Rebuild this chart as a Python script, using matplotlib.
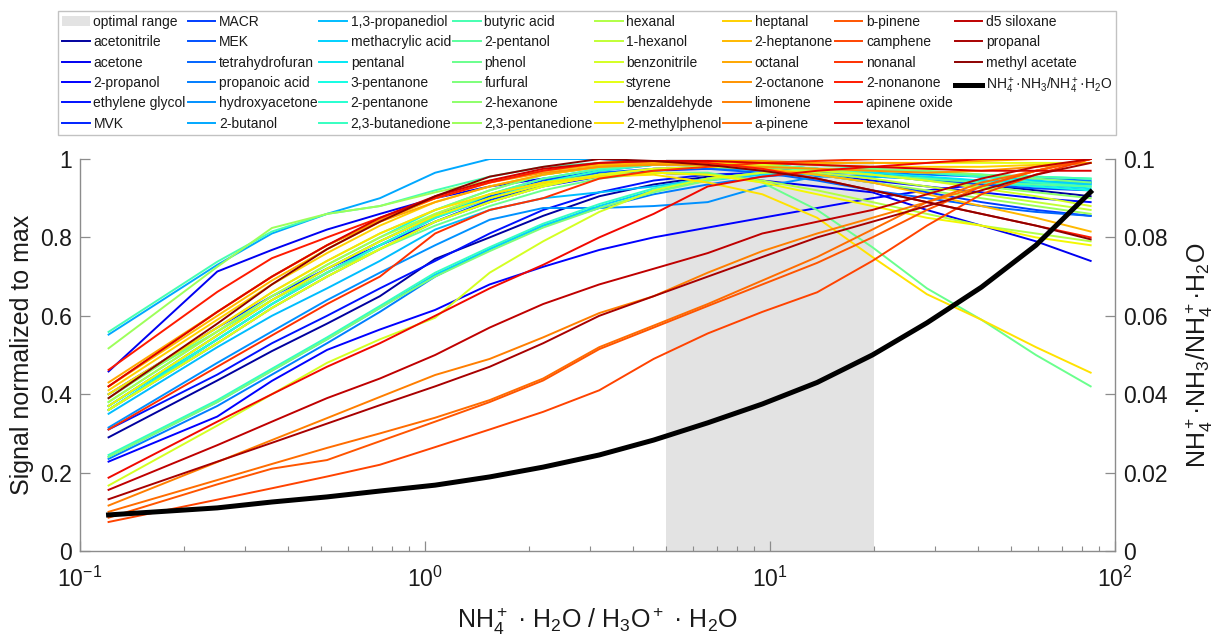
import numpy as np
import matplotlib
matplotlib.use('Agg')
import matplotlib.pyplot as plt
from matplotlib.patches import Patch
from matplotlib.lines import Line2D
from matplotlib.ticker import FixedLocator, FixedFormatter, LogLocator, LogFormatterSciNotation, NullFormatter

plt.rcParams['font.family'] = ['Liberation Sans', 'DejaVu Sans']
plt.rcParams['mathtext.fontset'] = 'custom'
plt.rcParams['mathtext.rm'] = 'Liberation Sans'
plt.rcParams['mathtext.it'] = 'Liberation Sans:italic'
plt.rcParams['mathtext.bf'] = 'Liberation Sans:bold'

# ---------------- data ----------------
ratio = [0.121, 0.25, 0.36, 0.52, 0.74, 1.07, 1.54, 2.2, 3.2, 4.6, 6.6, 9.5, 13.7, 19.8, 28.5, 41, 59, 85]

acetonitrile = [0.29, 0.435, 0.51, 0.58, 0.65, 0.745, 0.80, 0.855, 0.905, 0.935, 0.955, 0.965, 0.97, 0.965, 0.95, 0.935, 0.92, 0.905]
acetone = [0.458, 0.713, 0.768, 0.82, 0.86, 0.90, 0.93, 0.95, 0.96, 0.965, 0.96, 0.945, 0.93, 0.915, 0.87, 0.83, 0.79, 0.74]
propanol_2 = [0.228, 0.343, 0.434, 0.513, 0.565, 0.615, 0.68, 0.725, 0.768, 0.80, 0.825, 0.85, 0.875, 0.90, 0.92, 0.935, 0.94, 0.94]
ethylene_glycol = [0.31, 0.45, 0.53, 0.60, 0.67, 0.74, 0.81, 0.87, 0.915, 0.945, 0.96, 0.965, 0.96, 0.945, 0.93, 0.915, 0.90, 0.89]
mvk = [0.40, 0.57, 0.65, 0.72, 0.78, 0.84, 0.89, 0.93, 0.955, 0.97, 0.975, 0.975, 0.97, 0.96, 0.95, 0.94, 0.93, 0.92]
macr = [0.36, 0.53, 0.62, 0.70, 0.77, 0.84, 0.895, 0.935, 0.96, 0.975, 0.98, 0.975, 0.96, 0.94, 0.915, 0.89, 0.87, 0.855]
mek = [0.37, 0.55, 0.64, 0.72, 0.79, 0.855, 0.905, 0.945, 0.97, 0.985, 0.99, 0.985, 0.975, 0.96, 0.945, 0.935, 0.925, 0.92]
thf = [0.36, 0.54, 0.63, 0.71, 0.78, 0.85, 0.90, 0.94, 0.965, 0.975, 0.975, 0.965, 0.945, 0.92, 0.90, 0.88, 0.865, 0.855]
propanoic_acid = [0.235, 0.37, 0.45, 0.53, 0.61, 0.70, 0.77, 0.83, 0.875, 0.91, 0.935, 0.955, 0.965, 0.965, 0.96, 0.955, 0.95, 0.945]
hydroxyacetone = [0.315, 0.48, 0.56, 0.64, 0.71, 0.78, 0.845, 0.875, 0.875, 0.88, 0.89, 0.93, 0.955, 0.955, 0.95, 0.945, 0.94, 0.94]
butanol_2 = [0.552, 0.73, 0.81, 0.86, 0.90, 0.965, 1.0, 1.0, 1.0, 0.99, 0.98, 0.97, 0.96, 0.955, 0.95, 0.945, 0.94, 0.94]
propanediol_13 = [0.35, 0.52, 0.60, 0.67, 0.74, 0.82, 0.87, 0.90, 0.915, 0.93, 0.95, 0.965, 0.96, 0.955, 0.95, 0.945, 0.94, 0.935]
methacrylic_acid = [0.24, 0.38, 0.46, 0.54, 0.62, 0.705, 0.77, 0.83, 0.88, 0.92, 0.945, 0.96, 0.97, 0.97, 0.965, 0.955, 0.945, 0.935]
pentanal = [0.37, 0.54, 0.63, 0.71, 0.78, 0.85, 0.91, 0.95, 0.975, 0.985, 0.99, 0.985, 0.975, 0.965, 0.955, 0.945, 0.935, 0.925]
pentanone_3 = [0.38, 0.56, 0.65, 0.73, 0.80, 0.87, 0.92, 0.96, 0.98, 0.99, 0.99, 0.985, 0.975, 0.96, 0.95, 0.94, 0.93, 0.92]
pentanone_2 = [0.36, 0.54, 0.63, 0.71, 0.78, 0.85, 0.90, 0.94, 0.97, 0.985, 0.99, 0.99, 0.985, 0.975, 0.965, 0.96, 0.955, 0.95]
butanedione_23 = [0.245, 0.385, 0.465, 0.545, 0.625, 0.71, 0.775, 0.835, 0.885, 0.925, 0.95, 0.965, 0.97, 0.97, 0.965, 0.955, 0.94, 0.93]
butyric_acid = [0.559, 0.738, 0.815, 0.86, 0.88, 0.92, 0.955, 0.98, 0.99, 0.99, 0.985, 0.98, 0.975, 0.97, 0.965, 0.96, 0.955, 0.95]
pentanol_2 = [0.37, 0.55, 0.64, 0.72, 0.79, 0.86, 0.91, 0.95, 0.975, 0.985, 0.985, 0.98, 0.97, 0.96, 0.95, 0.94, 0.935, 0.93]
phenol = [0.40, 0.56, 0.64, 0.71, 0.77, 0.83, 0.88, 0.92, 0.95, 0.965, 0.965, 0.94, 0.87, 0.775, 0.67, 0.59, 0.50, 0.42]
furfural = [0.24, 0.38, 0.46, 0.54, 0.62, 0.70, 0.765, 0.825, 0.875, 0.915, 0.945, 0.965, 0.975, 0.975, 0.97, 0.96, 0.95, 0.94]
hexanone_2 = [0.39, 0.57, 0.66, 0.74, 0.81, 0.87, 0.92, 0.96, 0.98, 0.99, 0.99, 0.985, 0.975, 0.96, 0.945, 0.93, 0.915, 0.90]
pentanedione_23 = [0.517, 0.725, 0.824, 0.86, 0.88, 0.915, 0.945, 0.97, 0.985, 0.99, 0.985, 0.975, 0.96, 0.94, 0.92, 0.90, 0.88, 0.86]
hexanal = [0.38, 0.56, 0.65, 0.73, 0.80, 0.86, 0.91, 0.94, 0.96, 0.965, 0.96, 0.945, 0.92, 0.89, 0.86, 0.83, 0.81, 0.79]
hexanol_1 = [0.36, 0.53, 0.62, 0.70, 0.77, 0.84, 0.89, 0.93, 0.96, 0.975, 0.98, 0.975, 0.965, 0.95, 0.93, 0.91, 0.89, 0.87]
benzonitrile = [0.167, 0.32, 0.40, 0.48, 0.54, 0.595, 0.71, 0.79, 0.865, 0.92, 0.95, 0.965, 0.97, 0.96, 0.945, 0.925, 0.905, 0.88]
styrene = [0.36, 0.53, 0.62, 0.70, 0.77, 0.84, 0.89, 0.93, 0.96, 0.975, 0.98, 0.985, 0.99, 0.99, 0.99, 0.99, 0.99, 0.99]
benzaldehyde = [0.37, 0.55, 0.64, 0.72, 0.79, 0.855, 0.90, 0.935, 0.955, 0.965, 0.96, 0.94, 0.91, 0.88, 0.85, 0.83, 0.80, 0.78]
methylphenol_2 = [0.40, 0.57, 0.66, 0.74, 0.81, 0.87, 0.91, 0.94, 0.955, 0.96, 0.94, 0.91, 0.85, 0.75, 0.655, 0.59, 0.52, 0.455]
heptanal = [0.41, 0.59, 0.68, 0.76, 0.83, 0.89, 0.93, 0.96, 0.98, 0.99, 0.99, 0.99, 0.985, 0.98, 0.98, 0.98, 0.985, 0.99]
heptanone_2 = [0.42, 0.60, 0.69, 0.77, 0.84, 0.90, 0.94, 0.97, 0.985, 0.99, 0.985, 0.975, 0.96, 0.94, 0.91, 0.88, 0.85, 0.815]
octanal = [0.43, 0.61, 0.70, 0.78, 0.84, 0.89, 0.93, 0.96, 0.98, 0.99, 0.995, 0.995, 0.99, 0.99, 0.99, 0.995, 1.0, 1.0]
octanone_2 = [0.42, 0.61, 0.70, 0.78, 0.845, 0.90, 0.94, 0.965, 0.98, 0.985, 0.985, 0.98, 0.975, 0.97, 0.965, 0.97, 0.98, 0.99]
limonene = [0.116, 0.227, 0.283, 0.339, 0.393, 0.449, 0.49, 0.545, 0.607, 0.65, 0.71, 0.765, 0.81, 0.85, 0.89, 0.93, 0.97, 1.0]
a_pinene = [0.10, 0.181, 0.222, 0.263, 0.30, 0.34, 0.385, 0.44, 0.52, 0.575, 0.63, 0.69, 0.75, 0.82, 0.89, 0.94, 0.97, 1.0]
b_pinene = [0.085, 0.17, 0.21, 0.232, 0.28, 0.33, 0.38, 0.435, 0.515, 0.57, 0.625, 0.68, 0.735, 0.80, 0.87, 0.93, 0.97, 1.0]
camphene = [0.074, 0.131, 0.16, 0.19, 0.22, 0.265, 0.31, 0.355, 0.41, 0.49, 0.555, 0.61, 0.66, 0.74, 0.83, 0.91, 0.96, 1.0]
nonanal = [0.31, 0.47, 0.55, 0.63, 0.70, 0.81, 0.87, 0.90, 0.95, 0.97, 0.98, 0.99, 0.995, 1.0, 1.0, 1.0, 1.0, 1.0]
nonanone_2 = [0.462, 0.661, 0.747, 0.80, 0.85, 0.90, 0.94, 0.97, 0.99, 0.995, 0.99, 0.975, 0.95, 0.92, 0.89, 0.86, 0.83, 0.80]
apinene_oxide = [0.187, 0.33, 0.40, 0.47, 0.53, 0.60, 0.67, 0.73, 0.80, 0.86, 0.93, 0.955, 0.97, 0.98, 0.99, 1.0, 1.0, 1.0]
texanol = [0.42, 0.61, 0.70, 0.78, 0.85, 0.905, 0.945, 0.975, 0.99, 0.995, 0.995, 0.99, 0.985, 0.98, 0.975, 0.97, 0.97, 0.97]
d5_siloxane = [0.156, 0.27, 0.33, 0.39, 0.44, 0.50, 0.57, 0.63, 0.68, 0.72, 0.76, 0.81, 0.84, 0.87, 0.91, 0.95, 0.98, 1.0]
propanal = [0.132, 0.228, 0.276, 0.325, 0.372, 0.42, 0.47, 0.53, 0.60, 0.65, 0.70, 0.75, 0.80, 0.84, 0.88, 0.92, 0.96, 0.99]
methyl_acetate = [0.39, 0.58, 0.68, 0.77, 0.84, 0.905, 0.955, 0.98, 1.0, 0.995, 0.985, 0.97, 0.95, 0.92, 0.89, 0.86, 0.83, 0.795]

compound_names = ['acetonitrile', 'acetone', '2-propanol', 'ethylene glycol', 'MVK',
                  'MACR', 'MEK', 'tetrahydrofuran', 'propanoic acid', 'hydroxyacetone', '2-butanol',
                  '1,3-propanediol', 'methacrylic acid', 'pentanal', '3-pentanone', '2-pentanone', '2,3-butanedione',
                  'butyric acid', '2-pentanol', 'phenol', 'furfural', '2-hexanone', '2,3-pentanedione',
                  'hexanal', '1-hexanol', 'benzonitrile', 'styrene', 'benzaldehyde', '2-methylphenol',
                  'heptanal', '2-heptanone', 'octanal', '2-octanone', 'limonene', 'a-pinene',
                  'b-pinene', 'camphene', 'nonanal', '2-nonanone', 'apinene oxide', 'texanol',
                  'd5 siloxane', 'propanal', 'methyl acetate']
compound_series = [acetonitrile, acetone, propanol_2, ethylene_glycol, mvk,
                   macr, mek, thf, propanoic_acid, hydroxyacetone, butanol_2,
                   propanediol_13, methacrylic_acid, pentanal, pentanone_3, pentanone_2, butanedione_23,
                   butyric_acid, pentanol_2, phenol, furfural, hexanone_2, pentanedione_23,
                   hexanal, hexanol_1, benzonitrile, styrene, benzaldehyde, methylphenol_2,
                   heptanal, heptanone_2, octanal, octanone_2, limonene, a_pinene,
                   b_pinene, camphene, nonanal, nonanone_2, apinene_oxide, texanol,
                   d5_siloxane, propanal, methyl_acetate]

# NH4+.NH3 / NH4+.H2O (right axis)
cluster_ratio = [0.0092, 0.011, 0.0125, 0.0138, 0.0153, 0.0168, 0.0189, 0.0214, 0.0245, 0.0283,
                 0.0327, 0.0375, 0.043, 0.050, 0.0582, 0.0673, 0.078, 0.0916]

optimal_range = [5, 20]
left_ticks = [0, 0.2, 0.4, 0.6, 0.8, 1.0]
left_labels = ['0', '0.2', '0.4', '0.6', '0.8', '1']
right_ticks = [0, 0.02, 0.04, 0.06, 0.08, 0.1]
right_labels = ['0', '0.02', '0.04', '0.06', '0.08', '0.1']

# ---------------- figure ----------------
spine_c = (0.55, 0.55, 0.55)
text_c = (0.1, 0.1, 0.1)
shade_c = (0.89, 0.89, 0.89)

fig = plt.figure(figsize=(12.19, 6.38), dpi=100)
ax = fig.add_axes([80/1219, 1-551/638, 1035/1219, 392/638])

ax.axvspan(optimal_range[0], optimal_range[1], color=shade_c, lw=0, zorder=0)

n_comp = len(compound_names)
cmap_pos = np.concatenate([[0.03], np.linspace(0.10, 0.985, n_comp - 1)])
colors = plt.cm.jet(cmap_pos)
handles = [Patch(facecolor=shade_c, edgecolor='none', label='optimal range')]
for name, vals, c in zip(compound_names, compound_series, colors):
    ln, = ax.plot(ratio, vals, color=c, lw=1.4, label=name, zorder=2)
    handles.append(ln)

ax.set_xscale('log')
ax.set_xlim(0.1, 100)
ax.set_ylim(0, 1)
ax.yaxis.set_major_locator(FixedLocator(left_ticks))
ax.yaxis.set_major_formatter(FixedFormatter(left_labels))
ax.xaxis.set_major_locator(LogLocator(base=10, numticks=10))
ax.xaxis.set_major_formatter(LogFormatterSciNotation())
ax.xaxis.set_minor_locator(LogLocator(base=10, subs=np.arange(2, 10), numticks=20))
ax.xaxis.set_minor_formatter(NullFormatter())

for s in ['top', 'right']:
    ax.spines[s].set_visible(False)
for s in ['left', 'bottom']:
    ax.spines[s].set_color(spine_c)
    ax.spines[s].set_linewidth(1.0)
ax.tick_params(axis='both', which='major', direction='in', length=7, width=0.9,
               color=spine_c, labelsize=16.5, labelcolor=text_c, pad=6, right=False, top=False)
ax.tick_params(axis='x', which='major', pad=11)
ax.tick_params(axis='x', which='minor', direction='in', length=3.5, width=0.8, color=spine_c, top=False)

ax.set_ylabel('Signal normalized to max', fontsize=18, color=text_c, labelpad=4)
ax.set_xlabel('NH$_4^+$ · H$_2$O / H$_3$O$^+$ · H$_2$O', fontsize=18, color=text_c, labelpad=10)

ax2 = ax.twinx()
bl, = ax2.plot(ratio, cluster_ratio, color='black', lw=3.6,
               label='NH$_4^+$·NH$_3$/NH$_4^+$·H$_2$O', zorder=3)
ax2.set_ylim(0, 0.1)
ax2.yaxis.set_major_locator(FixedLocator(right_ticks))
ax2.yaxis.set_major_formatter(FixedFormatter(right_labels))
for s in ['top', 'left', 'bottom']:
    ax2.spines[s].set_visible(False)
ax2.spines['right'].set_color(spine_c)
ax2.spines['right'].set_linewidth(1.0)
ax2.tick_params(axis='y', which='major', direction='in', length=7, width=0.9,
                color=spine_c, labelsize=16.5, labelcolor=text_c, pad=6)
ax2.set_ylabel('NH$_4^+$·NH$_3$/NH$_4^+$·H$_2$O', fontsize=18, color=text_c, labelpad=11)

handles.append(bl)
handles.append(Line2D([], [], color='none', label=' '))
labels = [h.get_label() for h in handles]

leg = fig.legend(handles, labels, ncol=8, loc='lower left',
                 bbox_to_anchor=(58/1219, 1-135/638, 1058/1219, 123/638),
                 mode='expand', borderaxespad=0, fontsize=10, frameon=True, fancybox=False,
                 edgecolor=(0.7, 0.7, 0.7), handlelength=2.0, handletextpad=0.25,
                 columnspacing=0.3, labelspacing=0.46, borderpad=0.3, handleheight=0.8)
leg.get_frame().set_linewidth(1.0)
for t in leg.get_texts():
    t.set_color(text_c)

fig.savefig('out.png', dpi=100)
